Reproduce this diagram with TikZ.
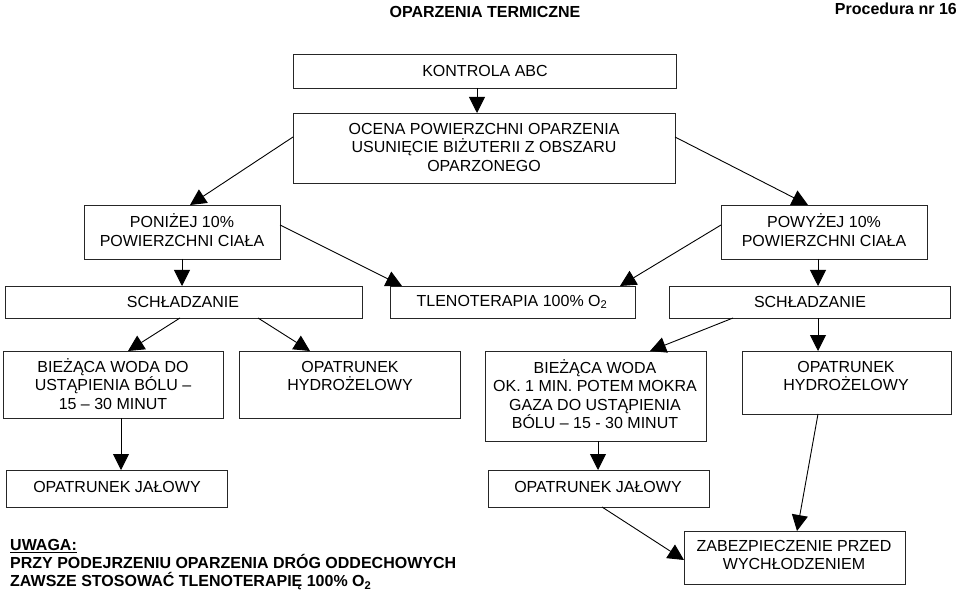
\documentclass[tikz,border=0pt]{standalone}
\usepackage{fontspec}
\setmainfont{Liberation Sans}
\usetikzlibrary{arrows.meta,calc}
\newcommand\mybox[5]{\node[box, minimum width={#4pt-#2pt}, minimum height={#5pt-#3pt}] (#1) at (#2,#3) {};}
\begin{document}
\begin{tikzpicture}[x=1pt,y=-1pt,
  box/.style={draw=black!85, line width=0.9pt, inner sep=0pt, outer sep=0pt, anchor=north west},
  txt/.style={align=center, font=\fontsize{16}{18.5}\selectfont, inner sep=0pt},
  bold/.style={font=\fontsize{16}{18}\selectfont\bfseries, inner sep=0pt},
  arr/.style={draw=black, line width=0.9pt, -{Triangle[length=16pt,width=16pt]}}]
\useasboundingbox (0,0) rectangle (960,593);
% titles
\node[bold] (title) at (485,12) {OPARZENIA TERMICZNE};
\node[bold, anchor=east] (proc) at (957,9) {Procedura nr 16};
% boxes
\mybox{kontrola}{293}{54}{676}{88}
\mybox{ocena}{293}{113}{675}{183}
\mybox{poniz}{84}{205}{280}{259}
\mybox{powyz}{721}{205}{927}{259}
\mybox{schl}{5}{286}{362}{318}
\mybox{tleno}{390}{286}{635}{318}
\mybox{schr}{669}{286}{950}{318}
\mybox{bl}{3}{351}{223}{418}
\mybox{hl}{239}{351}{460}{418}
\mybox{br}{485}{351}{706}{441}
\mybox{hr}{742}{351}{951}{414}
\mybox{jl}{6}{470}{227}{507}
\mybox{jr}{488}{470}{709}{507}
\mybox{zab}{684}{531}{905}{584}
% texts
\node[txt] (tkontrola) at (485,71) {KONTROLA ABC};
\node[txt] (tocena) at (484,147) {OCENA POWIERZCHNI OPARZENIA\\USUNIĘCIE BIŻUTERII Z OBSZARU\\OPARZONEGO};
\node[txt] (tponiz) at (182,230) {PONIŻEJ 10\%\\POWIERZCHNI CIAŁA};
\node[txt] (tpowyz) at (824,230) {POWYŻEJ 10\%\\POWIERZCHNI CIAŁA};
\node[txt] (tschl) at (183,302) {SCHŁADZANIE};
\node[txt] (ttleno) at (512,302) {TLENOTERAPIA 100\% O\textsubscript{2}};
\node[txt] (tschr) at (810,302) {SCHŁADZANIE};
\node[txt] (tbl) at (113,384) {BIEŻĄCA WODA DO\\USTĄPIENIA BÓLU –\\15 – 30 MINUT};
\node[txt] (thl) at (350,376) {OPATRUNEK\\HYDROŻELOWY};
\node[txt] (tbr) at (595,394) {BIEŻĄCA WODA\\OK. 1 MIN. POTEM MOKRA\\GAZA DO USTĄPIENIA\\BÓLU – 15 - 30 MINUT};
\node[txt] (thr) at (846,376) {OPATRUNEK\\HYDROŻELOWY};
\node[txt] (tjl) at (117,487) {OPATRUNEK JAŁOWY};
\node[txt] (tjr) at (598,487) {OPATRUNEK JAŁOWY};
\node[txt] (tzab) at (794,555) {ZABEZPIECZENIE PRZED\\WYCHŁODZENIEM};
\node[bold, align=left, anchor=west] (uwaga) at (10,565) {\underline{UWAGA:}\\PRZY PODEJRZENIU OPARZENIA DRÓG ODDECHOWYCH\\ZAWSZE STOSOWAĆ TLENOTERAPIĘ 100\% O\textsubscript{2}};
% arrows
\draw[arr] ($(kontrola.south west)+(184,0)$) -- ($(ocena.north west)+(184,0)$);
\draw[arr] ($(ocena.north west)+(0,24)$) -- ($(poniz.north west)+(106,0)$);
\draw[arr] ($(ocena.north east)+(0,24)$) -- ($(powyz.north west)+(87,0)$);
\draw[arr] ($(poniz.south west)+(98,0)$) -- ($(schl.north west)+(177,0)$);
\draw[arr] ($(poniz.north east)+(0,20)$) -- ($(tleno.north west)+(12,0)$);
\draw[arr] ($(powyz.north west)+(0,20)$) -- ($(tleno.north west)+(230,0)$);
\draw[arr] ($(powyz.south west)+(97,0)$) -- ($(schr.north west)+(149,0)$);
\draw[arr] ($(schl.south west)+(175,0)$) -- ($(bl.north west)+(125,0)$);
\draw[arr] ($(schl.south west)+(253,0)$) -- ($(hl.north west)+(71,0)$);
\draw[arr] ($(schr.south west)+(64,0)$) -- ($(br.north west)+(165,0)$);
\draw[arr] ($(schr.south west)+(149,0)$) -- ($(hr.north west)+(76,0)$);
\draw[arr] ($(bl.south west)+(118,0)$) -- ($(jl.north west)+(115,0)$);
\draw[arr] ($(br.south west)+(113,0)$) -- ($(jr.north west)+(110,0)$);
\draw[arr] ($(jr.south west)+(114,0)$) -- ($(zab.north west)+(0,29)$);
\draw[arr] ($(hr.south west)+(76,0)$) -- ($(zab.north west)+(113,0)$);
\end{tikzpicture}
\end{document}
